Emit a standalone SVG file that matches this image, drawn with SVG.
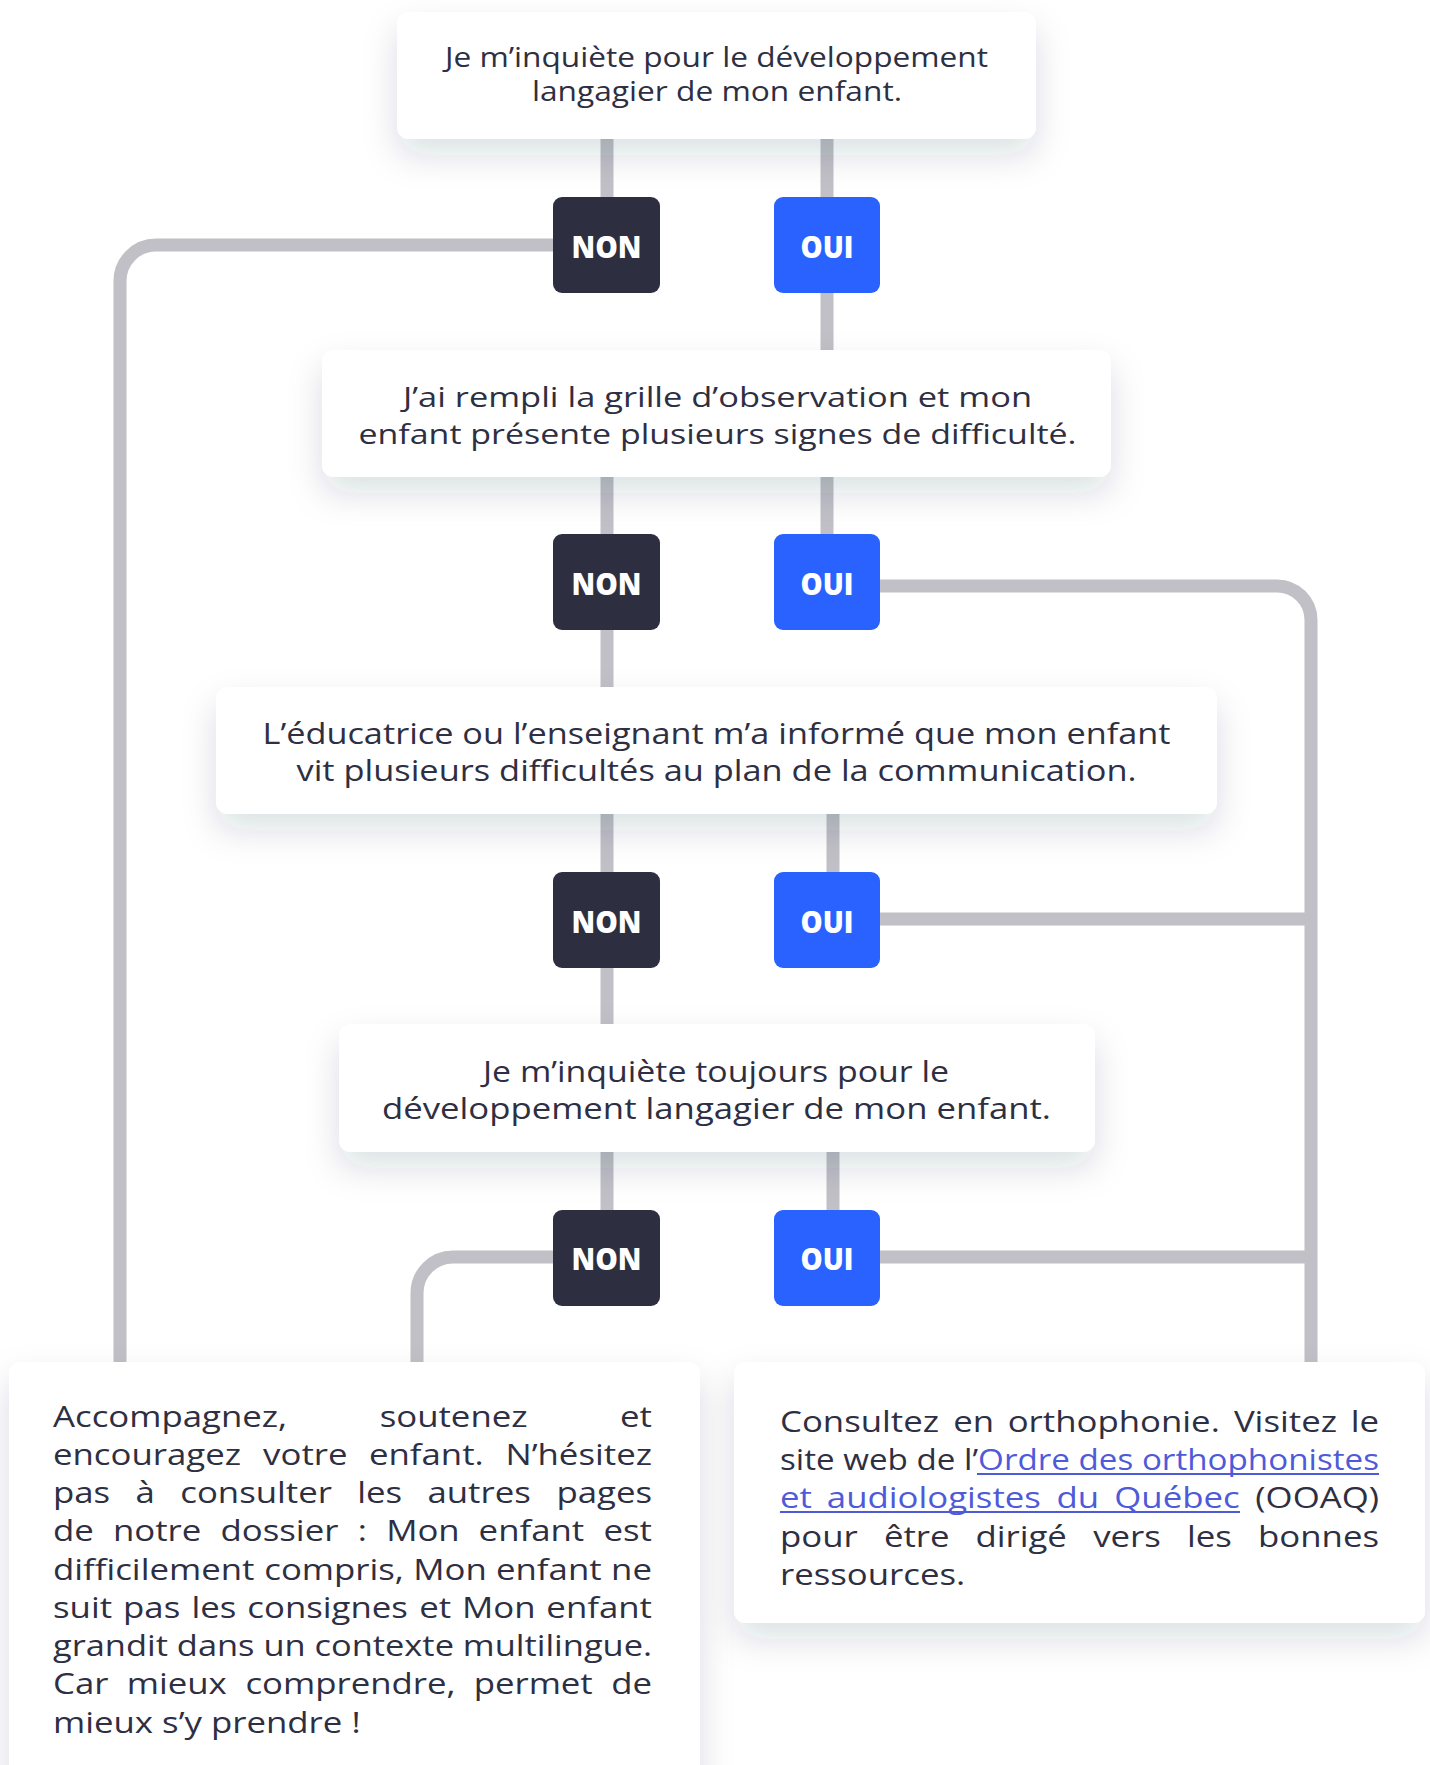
<svg xmlns="http://www.w3.org/2000/svg" width="1430" height="1765" viewBox="0 0 1430 1765">
<defs>
<filter id="sh" x="-15%" y="-40%" width="130%" height="200%">
<feDropShadow dx="0" dy="16" stdDeviation="17" flood-color="#1e2040" flood-opacity="0.14"/>
</filter>
<style>
.con{fill:none;stroke:#c0c0c6;stroke-width:13}
.box{fill:#ffffff;filter:url(#sh)}
.t{font-family:'Open Sans','Liberation Sans',sans-serif;fill:#2e2f42}
.lbl{font-family:'Open Sans','Liberation Sans',sans-serif;font-weight:800;font-size:30px;fill:#ffffff}
.non{fill:#2d2e40}
.oui{fill:#2962ff}
.p{font-family:'Open Sans','Liberation Sans',sans-serif;font-size:30px;fill:#2e2f42}
.e{text-anchor:end}
.lk{fill:#4f5ad9}
.ul{stroke:#4f5ad9;stroke-width:2}
</style>
</defs>
<rect width="1430" height="1765" fill="#ffffff"/>
<g id="connectors">
<path class="con" d="M607,139 V197"/>
<path class="con" d="M827,139 V197"/>
<path class="con" d="M827,293 V350"/>
<path class="con" d="M553,245 H156 A36,36 0 0 0 120,281 V1362"/>
<path class="con" d="M607,477 V534"/>
<path class="con" d="M827,477 V534"/>
<path class="con" d="M607,630 V687"/>
<path class="con" d="M880,586 H1277 A34,34 0 0 1 1311,620 V1362"/>
<path class="con" d="M607,814 V872"/>
<path class="con" d="M833,814 V872"/>
<path class="con" d="M880,919 H1311"/>
<path class="con" d="M607,968 V1024"/>
<path class="con" d="M607,1152 V1210"/>
<path class="con" d="M833,1152 V1210"/>
<path class="con" d="M880,1257 H1311"/>
<path class="con" d="M553,1257 H453 A36,36 0 0 0 417,1293 V1362"/>
</g>
<g id="q1">
<rect class="box" x="397" y="12" width="639" height="127" rx="12"/>
<text class="t" font-size="27" x="445" y="67" textLength="543" lengthAdjust="spacingAndGlyphs">Je m’inquiète pour le développement</text>
<text class="t" font-size="27" x="532" y="101" textLength="370" lengthAdjust="spacingAndGlyphs">langagier de mon enfant.</text>
</g>
<g id="q2">
<rect class="box" x="322" y="350" width="789" height="127" rx="12"/>
<text class="t" font-size="28" x="403" y="407" textLength="629" lengthAdjust="spacingAndGlyphs">J’ai rempli la grille d’observation et mon</text>
<text class="t" font-size="28" x="358.5" y="444" textLength="718" lengthAdjust="spacingAndGlyphs">enfant présente plusieurs signes de difficulté.</text>
</g>
<g id="q3">
<rect class="box" x="216" y="687" width="1001" height="127" rx="12"/>
<text class="t" font-size="30" x="262.5" y="744" textLength="908" lengthAdjust="spacingAndGlyphs">L’éducatrice ou l’enseignant m’a informé que mon enfant</text>
<text class="t" font-size="30" x="296.5" y="781" textLength="840" lengthAdjust="spacingAndGlyphs">vit plusieurs difficultés au plan de la communication.</text>
</g>
<g id="q4">
<rect class="box" x="339" y="1024" width="756" height="128" rx="12"/>
<text class="t" font-size="29" x="483" y="1082" textLength="466" lengthAdjust="spacingAndGlyphs">Je m’inquiète toujours pour le</text>
<text class="t" font-size="29" x="382" y="1119" textLength="669" lengthAdjust="spacingAndGlyphs">développement langagier de mon enfant.</text>
</g>
<g id="non1"><rect class="non" x="553" y="197" width="107" height="96" rx="9"/><text class="lbl" x="571.5" y="258" textLength="70" lengthAdjust="spacingAndGlyphs">NON</text></g>
<g id="oui1"><rect class="oui" x="774" y="197" width="106" height="96" rx="9"/><text class="lbl" x="800.5" y="258" textLength="53" lengthAdjust="spacingAndGlyphs">OUI</text></g>
<g id="non2"><rect class="non" x="553" y="534" width="107" height="96" rx="9"/><text class="lbl" x="571.5" y="595" textLength="70" lengthAdjust="spacingAndGlyphs">NON</text></g>
<g id="oui2"><rect class="oui" x="774" y="534" width="106" height="96" rx="9"/><text class="lbl" x="800.5" y="595" textLength="53" lengthAdjust="spacingAndGlyphs">OUI</text></g>
<g id="non3"><rect class="non" x="553" y="872" width="107" height="96" rx="9"/><text class="lbl" x="571.5" y="933" textLength="70" lengthAdjust="spacingAndGlyphs">NON</text></g>
<g id="oui3"><rect class="oui" x="774" y="872" width="106" height="96" rx="9"/><text class="lbl" x="800.5" y="933" textLength="53" lengthAdjust="spacingAndGlyphs">OUI</text></g>
<g id="non4"><rect class="non" x="553" y="1210" width="107" height="96" rx="9"/><text class="lbl" x="571.5" y="1270" textLength="70" lengthAdjust="spacingAndGlyphs">NON</text></g>
<g id="oui4"><rect class="oui" x="774" y="1210" width="106" height="96" rx="9"/><text class="lbl" x="800.5" y="1270" textLength="53" lengthAdjust="spacingAndGlyphs">OUI</text></g>
<g id="result-non">
<rect class="box" x="9" y="1362" width="691" height="440" rx="12"/>
<g transform="scale(1.16 1)">
<text class="p" y="1427"><tspan x="45.69">Accompagnez,</tspan><tspan x="327.3">soutenez</tspan><tspan class="e" x="562.07">et</tspan></text>
<text class="p" y="1465"><tspan x="45.69">encouragez</tspan><tspan x="226.8">votre</tspan><tspan x="318.1">enfant.</tspan><tspan class="e" x="562.07">N’hésitez</tspan></text>
<text class="p" y="1503"><tspan x="45.69">pas</tspan><tspan x="116.9">à</tspan><tspan x="155.4">consulter</tspan><tspan x="308">les</tspan><tspan x="368.5">autres</tspan><tspan class="e" x="562.07">pages</tspan></text>
<text class="p" y="1541.5"><tspan x="45.69">de</tspan><tspan x="97.4">notre</tspan><tspan x="190.1">dossier</tspan><tspan x="308.4">:</tspan><tspan x="332.9">Mon</tspan><tspan x="412.6">enfant</tspan><tspan class="e" x="562.07">est</tspan></text>
<text class="p" y="1580"><tspan x="45.69">difficilement</tspan><tspan x="227.8">compris,</tspan><tspan x="356.2">Mon</tspan><tspan x="427.6">enfant</tspan><tspan class="e" x="562.07">ne</tspan></text>
<text class="p" y="1618"><tspan x="45.69">suit</tspan><tspan x="106.1">pas</tspan><tspan x="165">les</tspan><tspan x="213.2">consignes</tspan><tspan x="361.4">et</tspan><tspan x="398.3">Mon</tspan><tspan class="e" x="562.07">enfant</tspan></text>
<text class="p" x="45.69" y="1656" textLength="516.4" lengthAdjust="spacingAndGlyphs">grandit dans un contexte multilingue.</text>
<text class="p" y="1694.5"><tspan x="45.69">Car</tspan><tspan x="109.3">mieux</tspan><tspan x="211.6">comprendre,</tspan><tspan x="408.3">permet</tspan><tspan class="e" x="562.07">de</tspan></text>
<text class="p" x="45.69" y="1733">mieux s’y prendre !</text>
</g>
</g>
<g id="result-oui">
<rect class="box" x="734" y="1362" width="691" height="261" rx="12"/>
<g transform="scale(1.16 1)">
<text class="p" y="1432"><tspan x="672.4">Consultez</tspan><tspan x="821.7">en</tspan><tspan x="868.7">orthophonie.</tspan><tspan x="1063.7">Visitez</tspan><tspan class="e" x="1188.8">le</tspan></text>
<text class="p" x="672.4" y="1470" textLength="516.4" lengthAdjust="spacingAndGlyphs">site web de l’<tspan class="lk">Ordre des orthophonistes</tspan></text>
<text class="p" y="1508"><tspan class="lk" x="672.4">et</tspan><tspan class="lk" x="712.8">audiologistes</tspan><tspan class="lk" x="910.8">du</tspan><tspan class="lk" x="960.6">Québec</tspan><tspan class="e" x="1188.8">(OOAQ)</tspan></text>
<text class="p" y="1547"><tspan x="672.4">pour</tspan><tspan x="762">être</tspan><tspan x="840.9">dirigé</tspan><tspan x="942.4">vers</tspan><tspan x="1023.2">les</tspan><tspan class="e" x="1188.8">bonnes</tspan></text>
<text class="p" x="672.4" y="1585">ressources.</text>
</g>
<line class="ul" x1="977" y1="1474" x2="1379" y2="1474"/>
<line class="ul" x1="780" y1="1512" x2="1240" y2="1512"/>
</g>
</svg>
